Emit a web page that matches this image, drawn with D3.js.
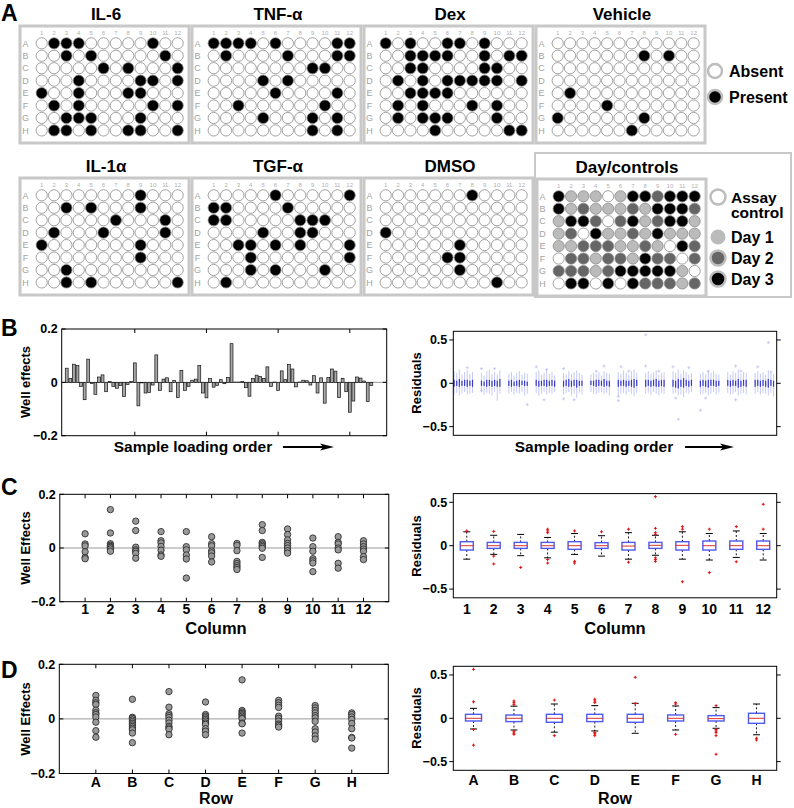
<!DOCTYPE html>
<html><head><meta charset="utf-8">
<script src="https://cdn.jsdelivr.net/npm/d3@7"></script>
<style>
body{margin:0;background:#fff;}
svg{display:block;font-family:"Liberation Sans",Arial,Helvetica,sans-serif;}
</style></head><body>
<svg id="fig" width="794" height="808"></svg>
<script>
// ---------------- DATA ----------------
const plateRows = ["A","B","C","D","E","F","G","H"];
const plateCols = [1,2,3,4,5,6,7,8,9,10,11,12];

const il6Present = ["A2","A3","A4","A10","B3","B5","B11","C6","C8","C12","D4","D9","D10","D12","E1","E4","E8","E9","F2","F4","F10","F12","G3","G4","G5","G9","H2","H3","H5","H8","H9","H12"];
const tnfPresent = ["A1","A2","A3","A4","A6","A11","A12","B2","B7","B11","B12","C9","C10","D5","D7","E6","E11","F3","F10","G5","G9","G11","H9","H11"];
const dexPresent = ["A1","A3","A6","A7","A9","B3","B4","B5","B6","B9","B11","B12","C3","C4","C9","C10","D2","D4","D6","D7","D8","D9","D10","D12","E3","E4","E5","E6","F2","F4","F8","F10","G2","G4","G5","G6","G10","H5","H11","H12"];
const vehiclePresent = ["B8","B10","E2","F5","G1","G8","H7"];
const il1Present = ["A9","B3","B5","B9","C7","C11","D2","D6","D11","E1","E9","F9","G3","H3","H5","H12"];
const tgfPresent = ["A6","A12","B1","B2","B7","C1","C2","C8","C9","C10","D5","D8","D9","E3","E4","E6","E8","E12","F4","F12","G4","G6","G10","H2"];
const dmsoPresent = ["A8","D1","E7","F6","F7","G7","H10"];

// 0 = assay control, 1 = day 1, 2 = day 2, 3 = day 3
const dayLayout = [
  [3,1,1,1,0,1,3,3,2,3,3,3],
  [3,1,2,1,1,1,2,1,3,3,3,2],
  [1,3,3,2,0,2,3,1,2,3,3,1],
  [1,2,0,3,1,1,2,1,3,1,1,1],
  [1,1,2,2,2,1,1,2,1,0,3,2],
  [0,2,2,1,2,2,1,3,2,2,0,2],
  [2,2,2,1,2,3,3,3,3,3,1,0],
  [0,3,3,0,3,0,3,2,2,2,1,2]
];
const dayLegend = ["Assay control","Day 1","Day 2","Day 3"];

// Panel B: well effects in sample loading order (86 samples)
const wellEffects = [0.053,0.015,0.068,0.063,-0.015,-0.065,0.087,-0.004,-0.045,0.02,
 0.028,-0.035,0.003,-0.015,-0.022,-0.012,-0.053,-0.008,0.003,0.073,
 -0.088,-0.002,-0.04,-0.038,-0.01,0.103,-0.03,0.012,0.017,-0.035,
 0.007,-0.057,0.045,-0.03,-0.015,0.008,0.012,0.063,-0.04,-0.058,
 0.014,-0.018,-0.012,0.01,-0.005,0.018,0.145,0.001,0.001,0.003,
 -0.02,-0.052,0.015,0.027,0.022,0.015,0.058,-0.015,0.001,-0.03,
 0.043,0.01,0.067,0.05,-0.017,0.001,0.008,0.006,-0.01,0.025,
 -0.04,0.017,-0.078,0.018,0.05,0.042,-0.057,0.015,-0.035,-0.112,
 -0.07,0.02,0.016,0.005,-0.072,-0.012];
const loadTicks = [20,40,60,80];

// Panel B right: residual box per well (12 groups x 8)
const resWhiskHi = [0.14,0.12,0.16,0.10,0.13,0.15,0.11,0.13, 0.12,0.09,0.14,0.16,0.11,0.13,0.10,0.15,
 0.11,0.13,0.09,0.12,0.14,0.10,0.12,0.11, 0.13,0.15,0.10,0.12,0.16,0.11,0.13,0.09,
 0.12,0.10,0.14,0.11,0.13,0.15,0.12,0.10, 0.10,0.12,0.11,0.13,0.09,0.14,0.12,0.11,
 0.13,0.11,0.15,0.12,0.10,0.14,0.16,0.12, 0.12,0.14,0.11,0.13,0.15,0.10,0.12,0.13,
 0.14,0.12,0.16,0.11,0.15,0.13,0.10,0.12, 0.11,0.13,0.10,0.15,0.12,0.14,0.11,0.10,
 0.13,0.10,0.14,0.12,0.16,0.11,0.13,0.12, 0.12,0.14,0.11,0.13,0.10,0.15,0.12,0.11];
const resWhiskLo = [-0.13,-0.11,-0.14,-0.12,-0.10,-0.13,-0.12,-0.11, -0.10,-0.13,-0.11,-0.12,-0.14,-0.10,-0.20,-0.12,
 -0.12,-0.10,-0.13,-0.11,-0.12,-0.10,-0.14,-0.12, -0.11,-0.14,-0.12,-0.10,-0.13,-0.11,-0.12,-0.10,
 -0.13,-0.11,-0.10,-0.14,-0.12,-0.17,-0.11,-0.13, -0.10,-0.12,-0.13,-0.11,-0.10,-0.12,-0.11,-0.14,
 -0.14,-0.12,-0.11,-0.13,-0.10,-0.12,-0.15,-0.11, -0.12,-0.11,-0.13,-0.10,-0.12,-0.14,-0.11,-0.12,
 -0.12,-0.11,-0.14,-0.13,-0.16,-0.11,-0.12,-0.10, -0.13,-0.12,-0.11,-0.14,-0.12,-0.10,-0.13,-0.11,
 -0.11,-0.13,-0.12,-0.10,-0.14,-0.12,-0.11,-0.13, -0.12,-0.10,-0.13,-0.11,-0.12,-0.14,-0.11,-0.15];
const resQ3 = [0.04,0.03,0.05,0.03,0.04,0.04,0.03,0.04, 0.03,0.02,0.04,0.04,0.03,0.04,0.03,0.05,
 0.03,0.04,0.02,0.03,0.04,0.03,0.03,0.02, 0.04,0.03,0.03,0.04,0.04,0.03,0.04,0.03,
 0.03,0.04,0.05,0.03,0.04,0.04,0.03,0.03, 0.03,0.03,0.04,0.04,0.03,0.05,0.03,0.03,
 0.04,0.03,0.04,0.03,0.03,0.04,0.05,0.04, 0.04,0.04,0.03,0.04,0.05,0.03,0.04,0.04,
 0.04,0.03,0.05,0.04,0.06,0.04,0.03,0.04, 0.03,0.04,0.03,0.04,0.04,0.04,0.03,0.03,
 0.04,0.03,0.04,0.03,0.05,0.03,0.04,0.04, 0.04,0.04,0.03,0.04,0.03,0.05,0.04,0.03];
const resQ1 = [-0.04,-0.03,-0.04,-0.03,-0.03,-0.04,-0.03,-0.04, -0.03,-0.03,-0.04,-0.03,-0.04,-0.03,-0.04,-0.04,
 -0.03,-0.04,-0.03,-0.03,-0.04,-0.02,-0.03,-0.03, -0.03,-0.04,-0.03,-0.03,-0.04,-0.03,-0.03,-0.04,
 -0.04,-0.03,-0.04,-0.04,-0.03,-0.05,-0.03,-0.03, -0.02,-0.03,-0.04,-0.03,-0.03,-0.04,-0.03,-0.04,
 -0.04,-0.03,-0.03,-0.04,-0.03,-0.04,-0.05,-0.03, -0.04,-0.03,-0.04,-0.03,-0.04,-0.04,-0.03,-0.04,
 -0.04,-0.05,-0.06,-0.04,-0.05,-0.03,-0.04,-0.03, -0.04,-0.03,-0.04,-0.05,-0.03,-0.03,-0.04,-0.03,
 -0.03,-0.04,-0.03,-0.03,-0.05,-0.04,-0.03,-0.04, -0.04,-0.03,-0.04,-0.03,-0.04,-0.05,-0.03,-0.04];
// [well index 0..95, residual]
const resOutliers = [[5,0.18],[8,0.17],[8,-0.085],[13,0.17],[23,-0.245],[24,0.19],[27,-0.19],[28,0.16],
 [32,0.17],[32,-0.18],[36,-0.19],[42,0.14],[45,0.2],[48,-0.15],[48,-0.2],[49,0.19],[52,0.14],
 [56,0.56],[56,0.2],[61,0.14],[64,0.19],[65,-0.17],[66,-0.415],[70,0.18],[72,-0.31],[74,-0.17],
 [75,0.14],[83,0.2],[83,-0.19],[85,0.14],[89,0.19],[93,0.47],[94,0.13]];

// Panel C left: well effects by column
const colEffects = [
 [0.053,0.015,0.008,-0.014,-0.035,-0.04],
 [0.143,0.056,0.016,0.01,0.006,0.002,-0.004,-0.012],
 [0.1,0.065,0.003,-0.007,-0.012,-0.02,-0.038],
 [0.061,0.027,0.019,0.006,-0.008,-0.026,-0.031],
 [0.061,0.005,-0.007,-0.026,-0.041,-0.112],
 [0.042,0.016,0.008,-0.011,-0.018,-0.03,-0.052],
 [0.017,0.01,-0.01,-0.05,-0.058,-0.066,-0.073,-0.08],
 [0.087,0.065,0.021,0.016,0.01,0.005,-0.001,-0.035],
 [0.071,0.05,0.03,0.017,0.009,0.0,-0.01,-0.019],
 [0.037,0.005,-0.012,-0.04,-0.048,-0.056,-0.088],
 [0.042,0.021,0.015,0.0,-0.007,-0.057,-0.075],
 [0.027,0.015,0.005,-0.004,-0.012,-0.032,-0.043]];

// Panel C right: residual box stats by column
const colQ3 = [0.046,0.038,0.038,0.038,0.046,0.035,0.038,0.038,0.046,0.054,0.054,0.054];
const colQ1 = [-0.05,-0.031,-0.031,-0.031,-0.042,-0.031,-0.05,-0.031,-0.05,-0.05,-0.042,-0.042];
const colMed = [0,0,0,0,0,0,-0.004,0.004,0.004,0,0,0];
const colWhiskHi = [0.16,0.12,0.13,0.095,0.14,0.115,0.15,0.12,0.16,0.14,0.17,0.14];
const colWhiskLo = [-0.155,-0.1,-0.115,-0.14,-0.1,-0.12,-0.155,-0.11,-0.155,-0.165,-0.135,-0.165];
const colOutliers = [[1,0.17],[2,0.165],[2,-0.12],[2,-0.21],[3,-0.25],[4,0.19],[4,0.17],[4,0.15],[4,-0.16],[4,-0.2],
 [5,0.17],[5,-0.18],[5,-0.2],[6,0.16],[7,0.19],[7,-0.19],[8,0.565],[8,0.2],[8,0.15],[8,0.13],[8,-0.14],[8,-0.16],[8,-0.18],
 [9,0.22],[9,0.19],[9,-0.415],[10,0.19],[10,-0.31],[11,0.22],[11,-0.185],[12,0.477],[12,0.19]];

// Panel D left: well effects by row
const rowEffects = [
 [0.086,0.068,0.059,0.053,0.032,0.022,0.016,0.007,-0.012,-0.043,-0.067],
 [0.072,0.006,0.002,-0.004,-0.01,-0.016,-0.022,-0.028,-0.034,-0.04,-0.052,-0.087],
 [0.1,0.043,0.019,0.012,0.005,-0.005,-0.015,-0.027,-0.033,-0.038,-0.058],
 [0.062,0.016,0.01,0.004,-0.002,-0.008,-0.015,-0.02,-0.036,-0.045,-0.058],
 [0.143,0.031,0.025,0.02,0.015,0.01,0.004,0.001,-0.015,-0.018,-0.052],
 [0.068,0.059,0.05,0.042,0.01,0.002,-0.008,-0.019,-0.024,-0.03],
 [0.049,0.04,0.031,0.022,0.012,0.004,-0.009,-0.036,-0.048,-0.062,-0.074],
 [0.022,0.016,0.007,-0.002,-0.017,-0.036,-0.068,-0.07,-0.107]];

// Panel D right: residual box stats by row
const rowQ3 = [0.046,0.038,0.046,0.046,0.046,0.038,0.031,0.058];
const rowQ1 = [-0.031,-0.038,-0.046,-0.038,-0.046,-0.031,-0.031,-0.058];
const rowMed = [0,0,0,0,0,0,-0.004,0];
const rowWhiskHi = [0.115,0.14,0.165,0.146,0.173,0.142,0.123,0.165];
const rowWhiskLo = [-0.123,-0.135,-0.16,-0.146,-0.173,-0.135,-0.115,-0.19];
const rowOutliers = [[1,0.565],[1,0.19],[1,-0.13],[1,-0.31],[2,0.2],[2,0.18],[2,0.16],[2,-0.15],[2,-0.17],[2,-0.185],
 [3,0.21],[3,-0.2],[4,0.22],[4,0.2],[4,0.18],[4,-0.165],[4,-0.18],[4,-0.2],[5,0.473],[5,0.17],
 [6,0.18],[6,0.165],[6,-0.185],[7,0.146],[7,-0.13],[7,-0.146],[7,-0.165],[7,-0.2],[7,-0.415],[8,-0.23],[8,-0.25]];

const effTicks = [-0.2,0,0.2];
const resTicks = [-0.5,0,0.5];

// ---------------- DRAWING ----------------
const svg = d3.select("#fig");
svg.append("rect").attr("width",794).attr("height",808).attr("fill","#fff");

function label(x,y,txt,size,opts={}){
  const t = svg.append("text").attr("x",x).attr("y",y).text(txt)
    .attr("font-size",size).attr("font-weight",opts.weight||"bold")
    .attr("fill",opts.fill||"#000").attr("text-anchor",opts.anchor||"middle");
  if(opts.rotate) t.attr("transform",`rotate(-90,${x},${y})`);
  return t;
}

// panel letters
label(1,21,"A",23,{anchor:"start"});
label(1,336,"B",23,{anchor:"start"});
label(1,495,"C",23,{anchor:"start"});
label(1,678,"D",23,{anchor:"start"});

// ---- Panel A plates ----
const dayFill = ["#ffffff","#bbbbbb","#666666","#000000"];
function drawPlate(x0,y0,fillFn){
  const g = svg.append("g");
  g.append("rect").attr("x",x0).attr("y",y0).attr("width",169).attr("height",117)
    .attr("fill","#fff").attr("stroke","#c8c8c8").attr("stroke-width",3);
  const cx = d3.scalePoint().domain(plateCols).range([x0+21.7,x0+21.7+11*12.36]);
  const cy = d3.scalePoint().domain(plateRows).range([y0+17.3,y0+17.3+7*12.45]);
  g.selectAll(".cn").data(plateCols).enter().append("text")
    .attr("x",d=>cx(d)).attr("y",y0+9).attr("text-anchor","middle")
    .attr("font-size",6).attr("fill","#b0b0b0").text(d=>d);
  g.selectAll(".rn").data(plateRows).enter().append("text")
    .attr("x",x0+5.5).attr("y",d=>cy(d)+3.2).attr("text-anchor","middle")
    .attr("font-size",9).attr("fill","#a3a3a3").text(d=>d);
  const wells = [];
  plateRows.forEach((r,ri)=>plateCols.forEach((c,ci)=>wells.push({r,c,ri,ci})));
  g.selectAll("circle").data(wells).enter().append("circle")
    .attr("cx",d=>cx(d.c)).attr("cy",d=>cy(d.r)).attr("r",5.6)
    .attr("fill",d=>fillFn(d)).attr("stroke","#8a8a8a").attr("stroke-width",0.8);
}
const plates = [
  {name:"IL-6",present:il6Present,x:20,y:26,ty:20},
  {name:"TNF-α",present:tnfPresent,x:192,y:26,ty:20},
  {name:"Dex",present:dexPresent,x:364,y:26,ty:20},
  {name:"Vehicle",present:vehiclePresent,x:536,y:26,ty:20},
  {name:"IL-1α",present:il1Present,x:20,y:178,ty:172},
  {name:"TGF-α",present:tgfPresent,x:192,y:178,ty:172},
  {name:"DMSO",present:dmsoPresent,x:364,y:178,ty:172}
];
plates.forEach(p=>{
  const s = new Set(p.present);
  drawPlate(p.x,p.y,d=>s.has(d.r+d.c)?"#000":"#fff");
  label(p.x+86,p.ty,p.name,17);
});
// Day/controls
svg.append("rect").attr("x",535).attr("y",153).attr("width",256).attr("height",144)
  .attr("fill","none").attr("stroke","#c8c8c8").attr("stroke-width",2);
drawPlate(537,179,d=>dayFill[dayLayout[d.ri][d.ci]]);
label(627,173,"Day/controls",17);

// legends
function legendCircle(x,y,fill,stroke,sw,r){
  svg.append("circle").attr("cx",x).attr("cy",y).attr("r",r).attr("fill",fill)
    .attr("stroke",stroke).attr("stroke-width",sw);
}
legendCircle(715,71,"#fff","#bdbdbd",2.5,7);
legendCircle(715,97,"#000","#bdbdbd",2.5,7);
label(729,77,"Absent",16,{anchor:"start"});
label(729,103,"Present",16,{anchor:"start"});
const legY = [197,237,258,279];
dayLegend.forEach((t,i)=>{
  legendCircle(718,legY[i],dayFill[i],"#bdbdbd",i===1?0:2.5,7.5);
});
label(731,202.5,"Assay",15.5,{anchor:"start"});
label(731,218,"control",15.5,{anchor:"start"});
[1,2,3].forEach(i=>label(731,legY[i]+6,dayLegend[i],16,{anchor:"start"}));

// ---- generic axes helpers ----
function frame(x,y){
  const [x0,x1]=x.range(), [y0,y1]=y.range();
  svg.append("rect").attr("x",Math.min(x0,x1)).attr("y",Math.min(y0,y1))
    .attr("width",Math.abs(x1-x0)).attr("height",Math.abs(y1-y0))
    .attr("fill","none").attr("stroke","#000").attr("stroke-width",1);
}
function yTicks(x,y,vals,inward,fmt){
  const [x0,x1]=x.range();
  const len = inward?4:-4;
  const g = svg.append("g");
  vals.forEach(v=>{
    g.append("line").attr("x1",x0).attr("x2",x0+len).attr("y1",y(v)).attr("y2",y(v)).attr("stroke","#000");
    g.append("line").attr("x1",x1).attr("x2",x1-len).attr("y1",y(v)).attr("y2",y(v)).attr("stroke","#000");
    g.append("text").attr("x",x0-(inward?4:6)).attr("y",y(v)+4.3).attr("text-anchor","end")
      .attr("font-size",12.5).attr("font-weight","bold").text(fmt(v));
  });
}
function xTicksInward(x,y,vals){
  const [y0,y1]=y.range();
  vals.forEach(v=>{
    svg.append("line").attr("x1",x(v)).attr("x2",x(v)).attr("y1",y0).attr("y2",y0-4).attr("stroke","#000");
    svg.append("line").attr("x1",x(v)).attr("x2",x(v)).attr("y1",y1).attr("y2",y1+4).attr("stroke","#000");
  });
}
const fmtEff = d=> d===0?"0":d3.format(".1f")(d);
function zeroLine(x,y){
  svg.append("line").attr("x1",x.range()[0]).attr("x2",x.range()[1]).attr("y1",y(0)).attr("y2",y(0))
    .attr("stroke","#999").attr("stroke-width",1);
}
function arrow(x1,x2,y){
  svg.append("line").attr("x1",x1).attr("x2",x2-10).attr("y1",y).attr("y2",y).attr("stroke","#000").attr("stroke-width",2);
  svg.append("path").attr("d",`M${x2},${y} L${x2-14},${y-3.5} L${x2-11},${y} L${x2-14},${y+3.5} Z`).attr("fill","#000");
}

// ---- Panel B left: bars ----
{
  const x = d3.scaleLinear().domain([-0.4,90.3]).range([61.7,386.7]);
  const y = d3.scaleLinear().domain([-0.2,0.2]).range([435.7,329]);
  zeroLine(x,y);
  svg.selectAll(".bar").data(wellEffects).enter().append("rect")
    .attr("x",(d,i)=>x(i+1-0.4)).attr("width",x(0.8)-x(0))
    .attr("y",d=>y(Math.max(0,d))).attr("height",d=>Math.abs(y(d)-y(0)))
    .attr("fill","#a6a6a6").attr("stroke","#111").attr("stroke-width",0.7);
  frame(x,y);
  yTicks(x,y,effTicks,true,fmtEff);
  xTicksInward(x,y,loadTicks);
  label(30,382,"Well effects",13,{rotate:true});
  label(193,452,"Sample loading order",15.5);
  arrow(283,334,447);
}
// ---- Panel B right: per-well residual boxes ----
{
  const x = d3.scaleLinear().domain([0,122.9]).range([453.3,776.7]);
  const y = d3.scaleLinear().domain([-0.6,0.6]).range([435.3,331.3]);
  const slot = i => 0.3 + Math.floor(i/8)*10.4 + (i%8);
  const idx = d3.range(resWhiskHi.length);
  svg.selectAll(".rw").data(idx).enter().append("line")
    .attr("x1",i=>x(slot(i))).attr("x2",i=>x(slot(i)))
    .attr("y1",i=>y(resWhiskHi[i])).attr("y2",i=>y(resWhiskLo[i]))
    .attr("stroke","#b8bcf0").attr("stroke-width",0.8);
  svg.selectAll(".rb").data(idx).enter().append("rect")
    .attr("x",i=>x(slot(i))-0.6).attr("width",1.2)
    .attr("y",i=>y(resQ3[i])).attr("height",i=>y(resQ1[i])-y(resQ3[i]))
    .attr("fill","#3a3ac4");
  resOutliers.forEach(([i,v])=>{
    const px=x(slot(i)), py=y(v);
    svg.append("path").attr("d",`M${px-1.5},${py}H${px+1.5}M${px},${py-1.5}V${py+1.5}`)
      .attr("stroke","#b4b8f0").attr("stroke-width",0.7);
  });
  frame(x,y);
  yTicks(x,y,resTicks,false,fmtEff);
  label(421,383,"Residuals",13,{rotate:true});
  label(594,452,"Sample loading order",15.5);
  arrow(685,734,447);
}
// ---- scatter / box helpers ----
function scatter(x,y,groups){
  const pts=[];
  groups.forEach((arr,gi)=>arr.forEach(v=>pts.push([gi+1,v])));
  svg.append("g").selectAll("circle").data(pts).enter().append("circle")
    .attr("cx",d=>x(d[0])).attr("cy",d=>y(d[1])).attr("r",3.2)
    .attr("fill","#999").attr("stroke","#222").attr("stroke-width",0.8);
}
function boxes(x,y,q1,q3,med,wlo,whi,outs,bw){
  q1.forEach((_,i)=>{
    const cx=x(i+1);
    svg.append("line").attr("x1",cx).attr("x2",cx).attr("y1",y(q3[i])).attr("y2",y(whi[i]))
      .attr("stroke","#000").attr("stroke-dasharray","2,2").attr("stroke-width",0.9);
    svg.append("line").attr("x1",cx).attr("x2",cx).attr("y1",y(q1[i])).attr("y2",y(wlo[i]))
      .attr("stroke","#000").attr("stroke-dasharray","2,2").attr("stroke-width",0.9);
    svg.append("line").attr("x1",cx-3.5).attr("x2",cx+3.5).attr("y1",y(whi[i])).attr("y2",y(whi[i])).attr("stroke","#000");
    svg.append("line").attr("x1",cx-3.5).attr("x2",cx+3.5).attr("y1",y(wlo[i])).attr("y2",y(wlo[i])).attr("stroke","#000");
    svg.append("rect").attr("x",cx-bw/2).attr("width",bw).attr("y",y(q3[i])).attr("height",y(q1[i])-y(q3[i]))
      .attr("fill","none").attr("stroke","#4c5af0").attr("stroke-width",1.4);
    svg.append("line").attr("x1",cx-bw/2).attr("x2",cx+bw/2).attr("y1",y(med[i])).attr("y2",y(med[i]))
      .attr("stroke","#e03030").attr("stroke-width",1);
  });
  outs.forEach(([g,v])=>{
    const px=x(g), py=y(v);
    svg.append("path").attr("d",`M${px-1.5},${py}H${px+1.5}M${px},${py-1.5}V${py+1.5}`)
      .attr("stroke","#e01010").attr("stroke-width",1);
  });
}
function xLabels(x,vals,txt,yb,size){
  vals.forEach((v,i)=>label(x(v),yb,txt[i],size));
}
// ---- Panel C left ----
{
  const x = d3.scaleLinear().domain([0,13]).range([59.8,388.8]);
  const y = d3.scaleLinear().domain([-0.2,0.2]).range([601.7,494.3]);
  zeroLine(x,y);
  scatter(x,y,colEffects);
  frame(x,y);
  yTicks(x,y,effTicks,true,fmtEff);
  xTicksInward(x,y,plateCols);
  xLabels(x,plateCols,plateCols.map(String),614,14);
  label(30,548,"Well Effects",13,{rotate:true});
  label(216,634,"Column",16.5);
}
// ---- Panel C right ----
{
  const x = d3.scaleLinear().domain([0.5,12.5]).range([453.3,776.7]);
  const y = d3.scaleLinear().domain([-0.6,0.6]).range([597.8,493.6]);
  boxes(x,y,colQ1,colQ3,colMed,colWhiskLo,colWhiskHi,colOutliers,13);
  frame(x,y);
  yTicks(x,y,resTicks,false,fmtEff);
  xLabels(x,plateCols,plateCols.map(String),614,14);
  label(421,546,"Residuals",13,{rotate:true});
  label(615,634,"Column",16.5);
}
// ---- Panel D left ----
{
  const x = d3.scaleLinear().domain([0,9]).range([59.3,388.3]);
  const y = d3.scaleLinear().domain([-0.2,0.2]).range([773.5,664.3]);
  const rx = d3.range(1,9);
  zeroLine(x,y);
  scatter(x,y,rowEffects);
  frame(x,y);
  yTicks(x,y,effTicks,true,fmtEff);
  xTicksInward(x,y,rx);
  xLabels(x,rx,plateRows,787,14);
  label(30,719,"Well Effects",13,{rotate:true});
  label(216,804,"Row",16);
}
// ---- Panel D right ----
{
  const x = d3.scaleLinear().domain([0.5,8.5]).range([453.3,776.7]);
  const y = d3.scaleLinear().domain([-0.6,0.6]).range([770.3,666.3]);
  const rx = d3.range(1,9);
  boxes(x,y,rowQ1,rowQ3,rowMed,rowWhiskLo,rowWhiskHi,rowOutliers,16);
  frame(x,y);
  yTicks(x,y,resTicks,false,fmtEff);
  xLabels(x,rx,plateRows,785,14);
  label(421,718,"Residuals",13,{rotate:true});
  label(615,804,"Row",16);
}
</script>
</body></html>
